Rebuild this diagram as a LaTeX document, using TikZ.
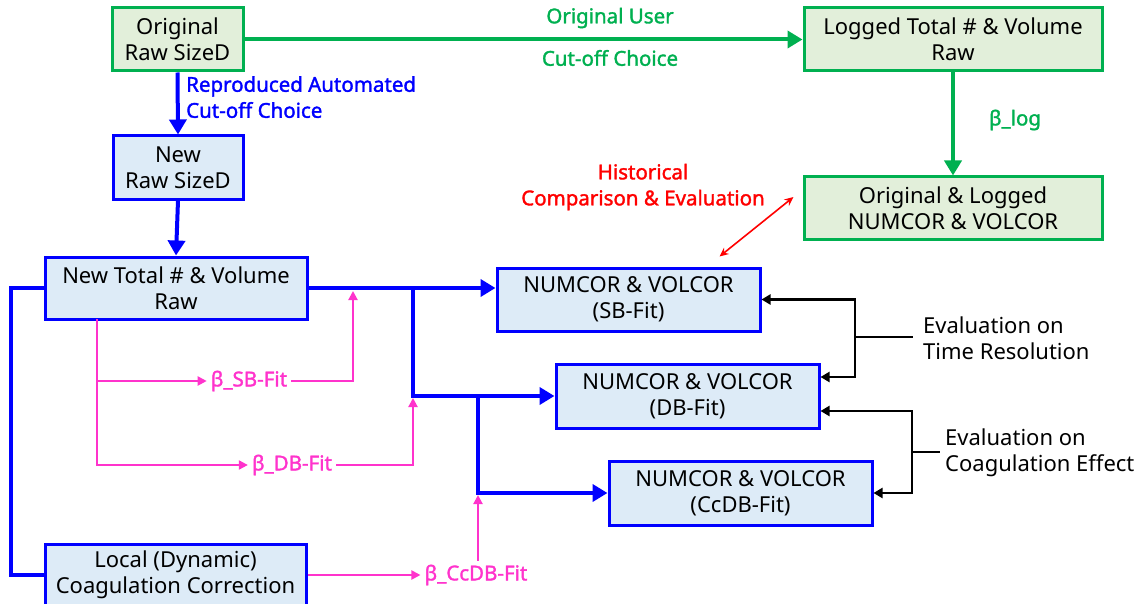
\documentclass[tikz,border=0pt]{standalone}
\usepackage{fontspec}
\setmainfont{Noto Sans}
\newfontfamily\lblfont{Noto Sans}[FakeBold=1.6]
\usetikzlibrary{arrows.meta}
\definecolor{gline}{HTML}{00B050}
\definecolor{gfill}{HTML}{E2EFDA}
\definecolor{bline}{HTML}{0000FF}
\definecolor{bfill}{HTML}{DDEBF7}
\definecolor{pk}{HTML}{FF33CC}
\definecolor{rd}{HTML}{FF0000}
\tikzset{
  x=1pt, y=-1pt,
  every node/.style={font=\fontsize{22}{26}\selectfont},
  boxbase/.style={line width=3pt, align=center, inner sep=0pt},
  gbox/.style={boxbase, draw=gline, fill=gfill},
  bbox/.style={boxbase, draw=bline, fill=bfill},
  lbl/.style={font=\fontsize{20.5}{26}\lblfont, align=center, inner sep=4pt},
  garrow/.style={draw=gline, line width=4pt, -{Triangle[length=15pt,width=17pt]}},
  barrow/.style={draw=bline, line width=4pt, -{Triangle[length=15pt,width=17pt]}},
  bline/.style={draw=bline, line width=4pt},
  parrow/.style={draw=pk, line width=2pt, -{Triangle[length=9pt,width=9pt]}},
  pline/.style={draw=pk, line width=2pt},
  karrow/.style={draw=black, line width=2.5pt, -{Triangle[length=9pt,width=10pt]}},
  kline/.style={draw=black, line width=2.5pt},
  rarrow/.style={draw=rd, line width=1.6pt, {Stealth[length=9pt,width=8pt]}-{Stealth[length=9pt,width=8pt]}},
}
\begin{document}
\begin{tikzpicture}
\useasboundingbox (0,0) rectangle (1142,604);
% boxes
\node[gbox, minimum width=131pt, minimum height=63pt] (orig) at (177.5,39.5) {Original\\Raw SizeD};
\node[gbox, minimum width=298pt, minimum height=63pt] (logged) at (953,39.5) {Logged Total \# \& Volume\\Raw};
\node[gbox, minimum width=298pt, minimum height=62pt] (ol) at (953,208) {Original \& Logged\\NUMCOR \& VOLCOR};
\node[bbox, minimum width=130pt, minimum height=63pt] (newraw) at (178,167.5) {New\\Raw SizeD};
\node[bbox, minimum width=262pt, minimum height=62pt] (newtot) at (176,288) {New Total \# \& Volume\\Raw};
\node[bbox, minimum width=261pt, minimum height=62pt] (local) at (175.5,575) {Local (Dynamic)\\Coagulation Correction};
\node[bbox, minimum width=263pt, minimum height=63pt] (sb) at (628.5,299.5) {NUMCOR \& VOLCOR\\(SB-Fit)};
\node[bbox, minimum width=263pt, minimum height=64pt] (db) at (687.5,396) {NUMCOR \& VOLCOR\\(DB-Fit)};
\node[bbox, minimum width=263pt, minimum height=64pt] (cc) at (740.5,493) {NUMCOR \& VOLCOR\\(CcDB-Fit)};

% green
\draw[garrow] (orig.east) -- (logged.west);
\node[lbl, text=gline] (ou1) at (610,18) {Original User};
\node[lbl, text=gline] (ou2) at (610,58) {Cut-off Choice};
\draw[garrow] (logged.south) -- (ol.north);
\node[lbl, text=gline] (blog) at (1015,120) {β\_log};

% blue
\draw[barrow] (orig.south) -- (newraw.north);
\node[lbl, text=bline, align=left, anchor=north west] (rac) at (182,72) {Reproduced Automated\\Cut-off Choice};
\draw[barrow] (newraw.south) -- (newtot.north);
\draw[bline] (newtot.west) -- ++(-33,0) |- (local.west);
\coordinate (j1) at (413,288);
\coordinate (j2) at (478,396);
\draw[barrow] (newtot.east) -- (newtot.east -| sb.west);
\draw[barrow] (j1) |- (db.west);
\draw[barrow] (j2) |- (cc.west);

% pink
\node[lbl, text=pk] (bsb) at (249,381) {β\_SB-Fit};
\node[lbl, text=pk] (bdb) at (292,465) {β\_DB-Fit};
\node[lbl, text=pk] (bcc) at (476,575) {β\_CcDB-Fit};
\coordinate (p0) at (97,319);
\coordinate (t1) at (353,291);
\coordinate (t2) at (413,398);
\coordinate (t3) at (478,495);
\draw[parrow] (p0) |- (bsb.west);
\draw[parrow] (p0) |- (bdb.west);
\draw[parrow] (bsb.east) -| (t1);
\draw[parrow] (bdb.east) -| (t2);
\draw[parrow] (local.east) -- (bcc.west);
\draw[parrow] (bcc.north -| t3) -- (t3);

% red
\node[lbl, text=rd] (hist) at (643,187) {Historical\\Comparison \& Evaluation};
\draw[rarrow] ([xshift=-42pt,yshift=10pt]sb.north east) -- ([xshift=-9pt,yshift=11pt]ol.west);

% black
\coordinate (e1) at (855,337);
\coordinate (e2) at (912,452);
\node[anchor=west, align=left, inner sep=4pt] (et1) at (919,338) {Evaluation on\\Time Resolution};
\node[anchor=west, align=left, inner sep=4pt] (et2) at (941,453) {Evaluation on\\Coagulation Effect};
\draw[karrow] (e1) |- (sb.east);
\draw[karrow] (e1) |- ([yshift=19pt]db.east);
\draw[kline] (e1) -- ([xshift=-6pt]e1 -| et1.west);
\draw[karrow] (e2) |- ([yshift=-15pt]db.east);
\draw[karrow] (e2) |- (cc.east);
\draw[kline] (e2) -- ([xshift=-1pt]e2 -| et2.west);
\end{tikzpicture}
\end{document}
